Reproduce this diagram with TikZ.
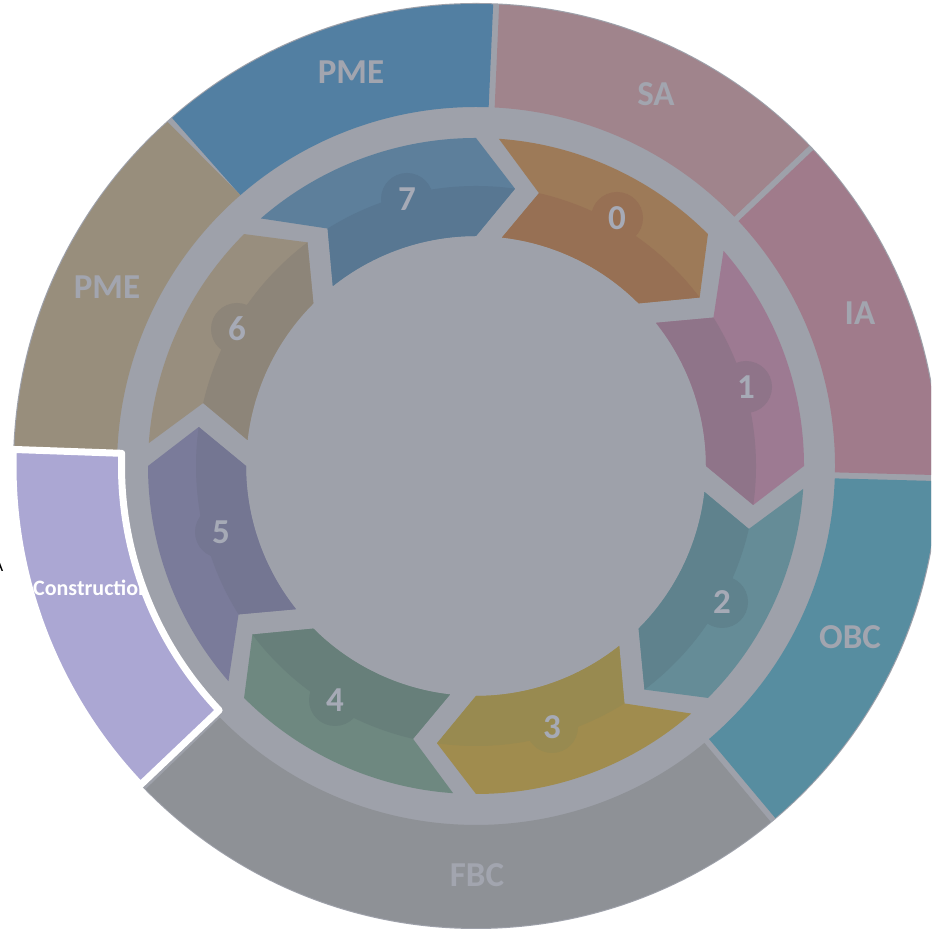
\documentclass[tikz,border=0pt]{standalone}
\usepackage{tikz}
\usepackage{fontspec}
\setmainfont{Carlito}

% ring and band colours
\definecolor{bandgray}{HTML}{9EA1AA}
\definecolor{labelgray}{HTML}{A2A5AF}
\definecolor{numgray}{HTML}{A6AAB6}
\definecolor{pmeblue}{HTML}{527FA2}
\definecolor{samauve}{HTML}{A0848C}
\definecolor{iamauve}{HTML}{A07B8B}
\definecolor{obcteal}{HTML}{578DA0}
\definecolor{fbcgray}{HTML}{8E9196}
\definecolor{conlav}{HTML}{ABA7D3}
\definecolor{pmetan}{HTML}{988E7C}
% step arrows: outer (light) and inner (dark) halves
\definecolor{sZl}{HTML}{9D7A58}\definecolor{sZd}{HTML}{977054}
\definecolor{sAl}{HTML}{9D7A92}\definecolor{sAd}{HTML}{8F7489}
\definecolor{sBl}{HTML}{658C97}\definecolor{sBd}{HTML}{5F828D}
\definecolor{sCl}{HTML}{A08C4E}\definecolor{sCd}{HTML}{988A50}
\definecolor{sDl}{HTML}{6E8880}\definecolor{sDd}{HTML}{677F7A}
\definecolor{sEl}{HTML}{7A7B9A}\definecolor{sEd}{HTML}{747692}
\definecolor{sFl}{HTML}{988E7E}\definecolor{sFd}{HTML}{8D8579}
\definecolor{sGl}{HTML}{5D7F9B}\definecolor{sGd}{HTML}{587792}

% outer ring sector: #1 = ccw boundary angle, #2 = cw boundary angle, #3 = fill
\newcommand\ringseg[3]{%
  \fill[#3] ({#1-0.37}:462) arc[start angle={#1-0.37}, end angle={#2+0.37}, radius=462pt]
    -- ({#2+0.48}:359) arc[start angle={#2+0.48}, end angle={#1-0.48}, radius=359pt] -- cycle;}

% chevron step arrow pointing clockwise, head at angle #1
\newcommand\steparrow[3]{%
  \fill[#2] ({#1+41}:328) arc[start angle={#1+41}, end angle={#1}, radius=328pt]
    -- ({#1-8}:280) -- ({#1}:230) arc[start angle={#1}, end angle={#1+38.5}, radius=230pt]
    -- ({#1+32}:280) -- cycle;
  \fill[#3] ({#1+32}:280) arc[start angle={#1+32}, end angle={#1-8}, radius=280pt]
    -- ({#1}:230) arc[start angle={#1}, end angle={#1+38.5}, radius=230pt] -- cycle;}

\begin{document}
\begin{tikzpicture}[x=1pt,y=1pt,
  lbl/.style={font=\bfseries\fontsize{35}{40}\selectfont, text=labelgray, inner sep=0pt},
  badge/.style={circle, minimum size=52pt, inner sep=0pt,
    font=\bfseries\fontsize{35}{40}\selectfont, text=numgray},
]
\useasboundingbox (0,0) rectangle (931,933);
\clip (0,0) rectangle (931,933);
\fill[white] (0,0) rectangle (931,933);

\begin{scope}[shift={(476,467)}]
  % base disc
  \fill[bandgray] (0,0) circle[radius=463pt];
  % outer ring
  \ringseg{131.5}{87.5}{pmeblue}
  \ringseg{87.5}{43.5}{samauve}
  \ringseg{43.5}{-1.5}{iamauve}
  \ringseg{-1.5}{-50}{obcteal}
  \ringseg{-50}{-136}{fbcgray}
  \fill[pmetan] (178.2:462) arc[start angle=178.2, end angle=131.87, radius=462pt]
    -- (131.02:359) arc[start angle=131.02, end angle=178.2, radius=359pt] -- cycle;
  % highlighted segment
  \path[fill=conlav] (177.95:463) arc[start angle=177.95, end angle=223.55, radius=463pt]
    -- (223.55:354.5) arc[start angle=223.55, end angle=177.95, radius=354.5pt] -- cycle;
\end{scope}

\begin{scope}
  \clip[shift={(476,467)}] (177.95:463) arc[start angle=177.95, end angle=223.55, radius=463pt]
    -- (223.55:354.5) arc[start angle=223.55, end angle=177.95, radius=354.5pt] -- cycle;
  \node[anchor=west, inner sep=0pt, text=white, font=\bfseries\fontsize{22}{26}\selectfont]
    (construction) at (33,345) {Construction};
\end{scope}

\begin{scope}[shift={(476,467)}]
  \draw[white, line width=7pt, line join=round] (177.95:463) arc[start angle=177.95, end angle=223.55, radius=463pt]
    -- (223.55:354.5) arc[start angle=223.55, end angle=177.95, radius=354.5pt] -- cycle;
  % cycle of step arrows
  \steparrow{45}{sZl}{sZd}
  \steparrow{0}{sAl}{sAd}
  \steparrow{-45}{sBl}{sBd}
  \steparrow{-90}{sCl}{sCd}
  \steparrow{-135}{sDl}{sDd}
  \steparrow{-180}{sEl}{sEd}
  \steparrow{-225}{sFl}{sFd}
  \steparrow{-270}{sGl}{sGd}
\end{scope}

% step numbers
\node[badge, fill=sZd] (n0) at (617,715) {0};
\node[badge, fill=sAd] (n1) at (746,546) {1};
\node[badge, fill=sBd] (n2) at (722,331) {2};
\node[badge, fill=sCd] (n3) at (552,206) {3};
\node[badge, fill=sDd] (n4) at (335,233) {4};
\node[badge, fill=sEd] (n5) at (221,401) {5};
\node[badge, fill=sFd] (n6) at (237,604) {6};
\node[badge, fill=sGd] (n7) at (407,734) {7};

% ring labels
\node[lbl] (pmetop) at (351,861) {PME};
\node[lbl] (sa) at (656,839) {SA};
\node[lbl] (ia) at (860,620) {IA};
\node[lbl] (obc) at (850,296) {OBC};
\node[lbl] (fbc) at (477,58) {FBC};
\node[lbl] (pmeleft) at (107,646) {PME};
\node[anchor=east, inner sep=0pt, text=black, font=\fontsize{18}{20}\selectfont] (sideA) at (3.5,367) {A};
\end{tikzpicture}
\end{document}
